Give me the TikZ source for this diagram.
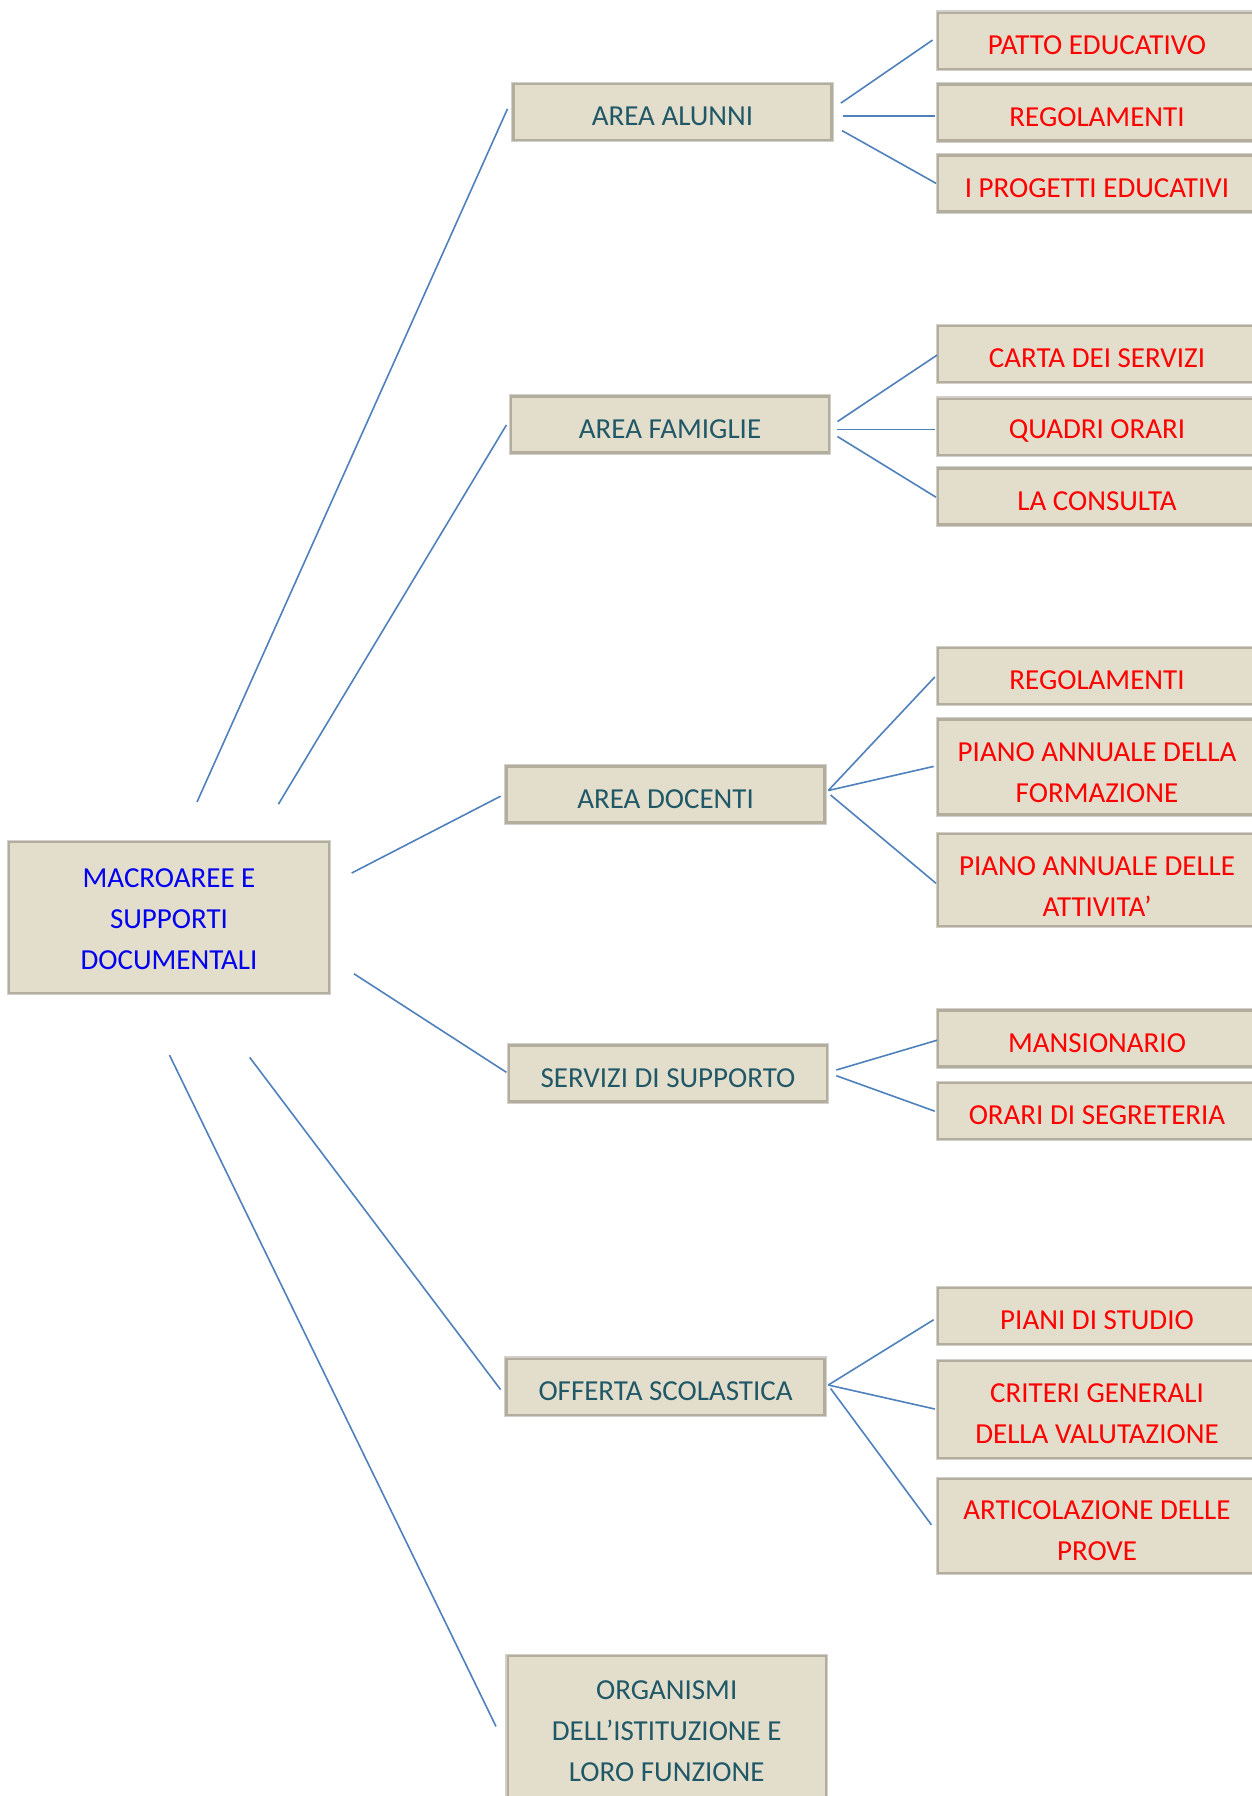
\documentclass[tikz,border=0pt]{standalone}
\usepackage{fontspec}
\setmainfont{Carlito}
\definecolor{boxfill}{HTML}{E3DECB}
\definecolor{boxline}{HTML}{B3AD9E}
\definecolor{boxhalo}{HTML}{D2D0CB}
\definecolor{tealtxt}{HTML}{215867}
\definecolor{bluetxt}{HTML}{0000F0}
\definecolor{redtxt}{HTML}{FF0000}
\definecolor{linkblue}{HTML}{4F81BD}
% lowered text (box dimensions kept)
\newcommand\lowr[2][4.5pt]{\raisebox{-#1}[\height][\depth]{#2}}
% lowered text with right padding (for the leaf boxes cut by the page edge)
\newcommand\lowl[2][4.5pt]{\raisebox{-#1}[\height][\depth]{#2\hspace*{62pt}}}
\tikzset{
  box/.style={rectangle, fill=boxfill, draw=boxline, line width=2.4pt,
    preaction={draw=boxhalo, line width=4.6pt},
    minimum width=318pt, minimum height=56pt, inner sep=0pt, align=center,
    font=\fontsize{29}{41}\selectfont},
  midbox/.style={box, text=tealtxt},
  leafbox/.style={box, text=redtxt, minimum width=380pt},
  rootbox/.style={box, text=bluetxt, minimum width=320pt, minimum height=151pt},
  link/.style={draw=linkblue, line width=1.6pt}
}
\begin{document}
\begin{tikzpicture}[x=1pt,y=-1pt]
\useasboundingbox (0,0) rectangle (1251,1796);
\fill[white] (0,0) rectangle (1251,1796);
% root
\node[rootbox] (root) at (169,917.5) {\lowr[1.2pt]{MACROAREE E}\\\lowr[1.2pt]{SUPPORTI}\\\lowr[1.2pt]{DOCUMENTALI}};
% middle level
\node[midbox] (alunni) at (672.5,112) {\lowr{AREA ALUNNI}};
\node[midbox] (famiglie) at (670,424.4) {\lowr{AREA FAMIGLIE}};
\node[midbox] (docenti) at (665.6,794.5) {\lowr{AREA DOCENTI}};
\node[midbox] (servizi) at (668,1073.4) {\lowr{SERVIZI DI SUPPORTO}};
\node[midbox] (offerta) at (665.6,1386.7) {\lowr{OFFERTA SCOLASTICA}};
\node[midbox, minimum height=150pt] (organismi) at (666.7,1731) {\lowr[0.5pt]{ORGANISMI}\\\lowr[0.5pt]{DELL’ISTITUZIONE E}\\\lowr[0.5pt]{LORO FUNZIONE}};
% leaves (left edge at 938, running past the right page edge)
\node[leafbox] (patto) at (1128,40.7) {\lowl{PATTO EDUCATIVO}};
\node[leafbox] (regol1) at (1128,112.3) {\lowl{REGOLAMENTI}};
\node[leafbox] (progetti) at (1128,183.3) {\lowl{I PROGETTI EDUCATIVI}};
\node[leafbox] (carta) at (1128,354) {\lowl{CARTA DEI SERVIZI}};
\node[leafbox] (quadri) at (1128,426.7) {\lowl{QUADRI ORARI}};
\node[leafbox] (consulta) at (1128,496.6) {\lowl{LA CONSULTA}};
\node[leafbox] (regol2) at (1128,676) {\lowl{REGOLAMENTI}};
\node[leafbox, minimum height=95pt] (pformaz) at (1128,767) {\lowl[5.8pt]{PIANO ANNUALE DELLA}\\\lowl[5.8pt]{FORMAZIONE}};
\node[leafbox, minimum height=92pt] (pattiv) at (1128,880) {\lowl[6.2pt]{PIANO ANNUALE DELLE}\\\lowl[6.2pt]{ATTIVITA’}};
\node[leafbox] (mansion) at (1128,1038.5) {\lowl{MANSIONARIO}};
\node[leafbox] (orari) at (1128,1111) {\lowl{ORARI DI SEGRETERIA}};
\node[leafbox] (piani) at (1128,1315.8) {\lowl{PIANI DI STUDIO}};
\node[leafbox, minimum height=97pt] (criteri) at (1128,1409.6) {\lowl[3.6pt]{CRITERI GENERALI}\\\lowl[3.6pt]{DELLA VALUTAZIONE}};
\node[leafbox, minimum height=94pt] (artic) at (1128,1526) {\lowl[5pt]{ARTICOLAZIONE DELLE}\\\lowl[5pt]{PROVE}};
% connector end points
\coordinate (r1) at (197,802);     \coordinate (a1) at (507.5,108.8);
\coordinate (r2) at (278.4,804.2); \coordinate (f1) at (506.4,425);
\coordinate (r3) at (351.7,873);   \coordinate (d1) at (500.6,796.2);
\coordinate (r4) at (354,973.8);   \coordinate (s1) at (506.4,1072.3);
\coordinate (r5) at (249.7,1057.4);\coordinate (o1) at (500.6,1389.6);
\coordinate (r6) at (169.5,1055.1);\coordinate (g1) at (496,1726.4);
\draw[link] (r1) -- (a1);
\draw[link] (r2) -- (f1);
\draw[link] (r3) -- (d1);
\draw[link] (r4) -- (s1);
\draw[link] (r5) -- (o1);
\draw[link] (r6) -- (g1);
% alunni
\coordinate (aa1) at (840.9,103.1); \coordinate (pa) at (932.5,40.1);
\coordinate (aa2) at (843.2,115.7); \coordinate (re1) at (934.8,115.7);
\coordinate (aa3) at (842,130.6);   \coordinate (pr) at (936,183.3);
\draw[link] (aa1) -- (pa);
\draw[link] (aa2) -- (re1);
\draw[link] (aa3) -- (pr);
% famiglie
\coordinate (ff1) at (837.4,421.6); \coordinate (ca) at (937.1,355.1);
\coordinate (ff2) at (837.4,429.6); \coordinate (qu) at (934.8,429.6);
\coordinate (ff3) at (837.4,436.5); \coordinate (co) at (936,497.2);
\draw[link] (ff1) -- (ca);
\draw[link] (ff2) -- (qu);
\draw[link] (ff3) -- (co);
% docenti
\coordinate (dd1) at (828.3,790.5); \coordinate (re2) at (934.8,677);
\coordinate (pf) at (933.7,766.4);
\coordinate (dd2) at (830.6,795);   \coordinate (pt) at (936,883.3);
\draw[link] (dd1) -- (re2);
\draw[link] (dd1) -- (pf);
\draw[link] (dd2) -- (pt);
% servizi
\coordinate (ss1) at (836.3,1070);   \coordinate (ma) at (937.1,1040.2);
\coordinate (ss2) at (836.3,1075.7); \coordinate (or) at (934.8,1111.2);
\draw[link] (ss1) -- (ma);
\draw[link] (ss2) -- (or);
% offerta
\coordinate (oo1) at (828.3,1385);   \coordinate (pi) at (933.7,1319.7);
\coordinate (cr) at (934.8,1409);
\coordinate (oo2) at (830.6,1388.5); \coordinate (ar) at (931.4,1524.8);
\draw[link] (oo1) -- (pi);
\draw[link] (oo1) -- (cr);
\draw[link] (oo2) -- (ar);
\end{tikzpicture}
\end{document}
